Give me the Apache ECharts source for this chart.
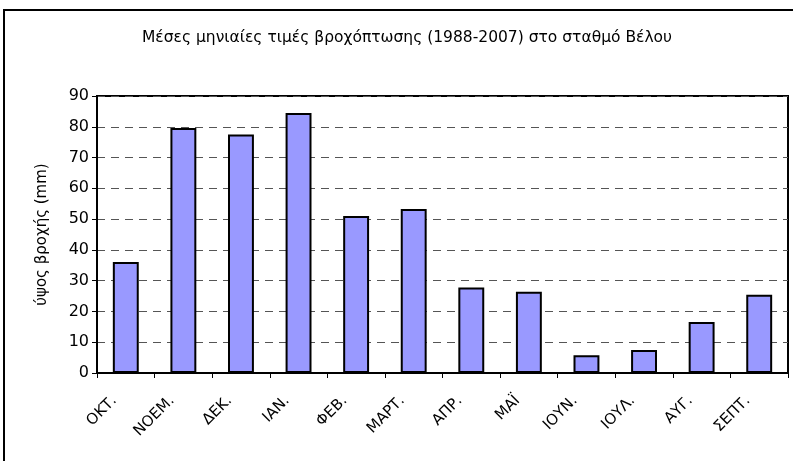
<!DOCTYPE html>
<html>
<head>
<meta charset="utf-8">
<script src="https://cdn.jsdelivr.net/npm/echarts@6/dist/echarts.min.js"></script>
<style>
  html, body { margin: 0; padding: 0; background: #fff; }
  #chart { width: 793px; height: 461px; }
</style>
</head>
<body>
<div id="chart"></div>
<script>
// monthly mean rainfall, Velo station
const months = ['ΟΚΤ.', 'ΝΟΕΜ.', 'ΔΕΚ.', 'ΙΑΝ.', 'ΦΕΒ.', 'ΜΑΡΤ.', 'ΑΠΡ.', 'ΜΑΪ', 'ΙΟΥΝ.', 'ΙΟΥΛ.', 'ΑΥΓ.', 'ΣΕΠΤ.'];
const rainfall = [36.1, 79.6, 77.5, 84.5, 51.0, 53.3, 27.8, 26.4, 5.8, 7.5, 16.6, 25.4];
const titleText = 'Μέσες μηνιαίες τιμές βροχόπτωσης (1988-2007) στο σταθμό Βέλου';
const yName = 'ύψος βροχής (mm)';

const chart = echarts.init(document.getElementById('chart'));
const font = 'DejaVu Sans, sans-serif';

chart.setOption({
  animation: false,
  textStyle: { fontFamily: font },
  title: {
    text: titleText,
    left: 402,
    top: 25,
    textAlign: 'center',
    textStyle: { fontSize: 15.5, fontWeight: 'normal', color: '#000', fontFamily: font }
  },
  graphic: [{
    type: 'rect',
    shape: { x: 4, y: 10, width: 820, height: 480 },
    style: { fill: 'none', stroke: '#000', lineWidth: 2 },
    silent: true
  }],
  grid: {
    left: 97, top: 96, right: 5, bottom: 88,
    show: true, borderColor: '#000', borderWidth: 2
  },
  xAxis: {
    type: 'category',
    data: months,
    axisLine: { lineStyle: { color: '#000', width: 2 } },
    axisTick: { show: true, length: 5, inside: false, lineStyle: { color: '#000' } },
    axisLabel: { rotate: 45, fontSize: 15, color: '#000', margin: 14, padding: [0, 16, 0, 0], fontFamily: font }
  },
  yAxis: {
    type: 'value',
    min: 0, max: 90, interval: 10,
    name: yName,
    nameLocation: 'middle',
    nameRotate: 90,
    nameGap: 47,
    nameTextStyle: { fontSize: 15, color: '#000', fontFamily: font },
    axisLine: { show: true, lineStyle: { color: '#000', width: 2 } },
    axisTick: { show: true, length: 5, lineStyle: { color: '#000' } },
    axisLabel: { fontSize: 16, color: '#000', margin: 8, fontFamily: font },
    splitLine: { show: true, lineStyle: { color: '#555', type: [8, 6], width: 1 } }
  },
  series: [{
    type: 'bar',
    data: rainfall,
    barWidth: '45%',
    itemStyle: { color: '#9999ff', borderColor: '#000', borderWidth: 2 }
  }]
});
</script>
</body>
</html>
